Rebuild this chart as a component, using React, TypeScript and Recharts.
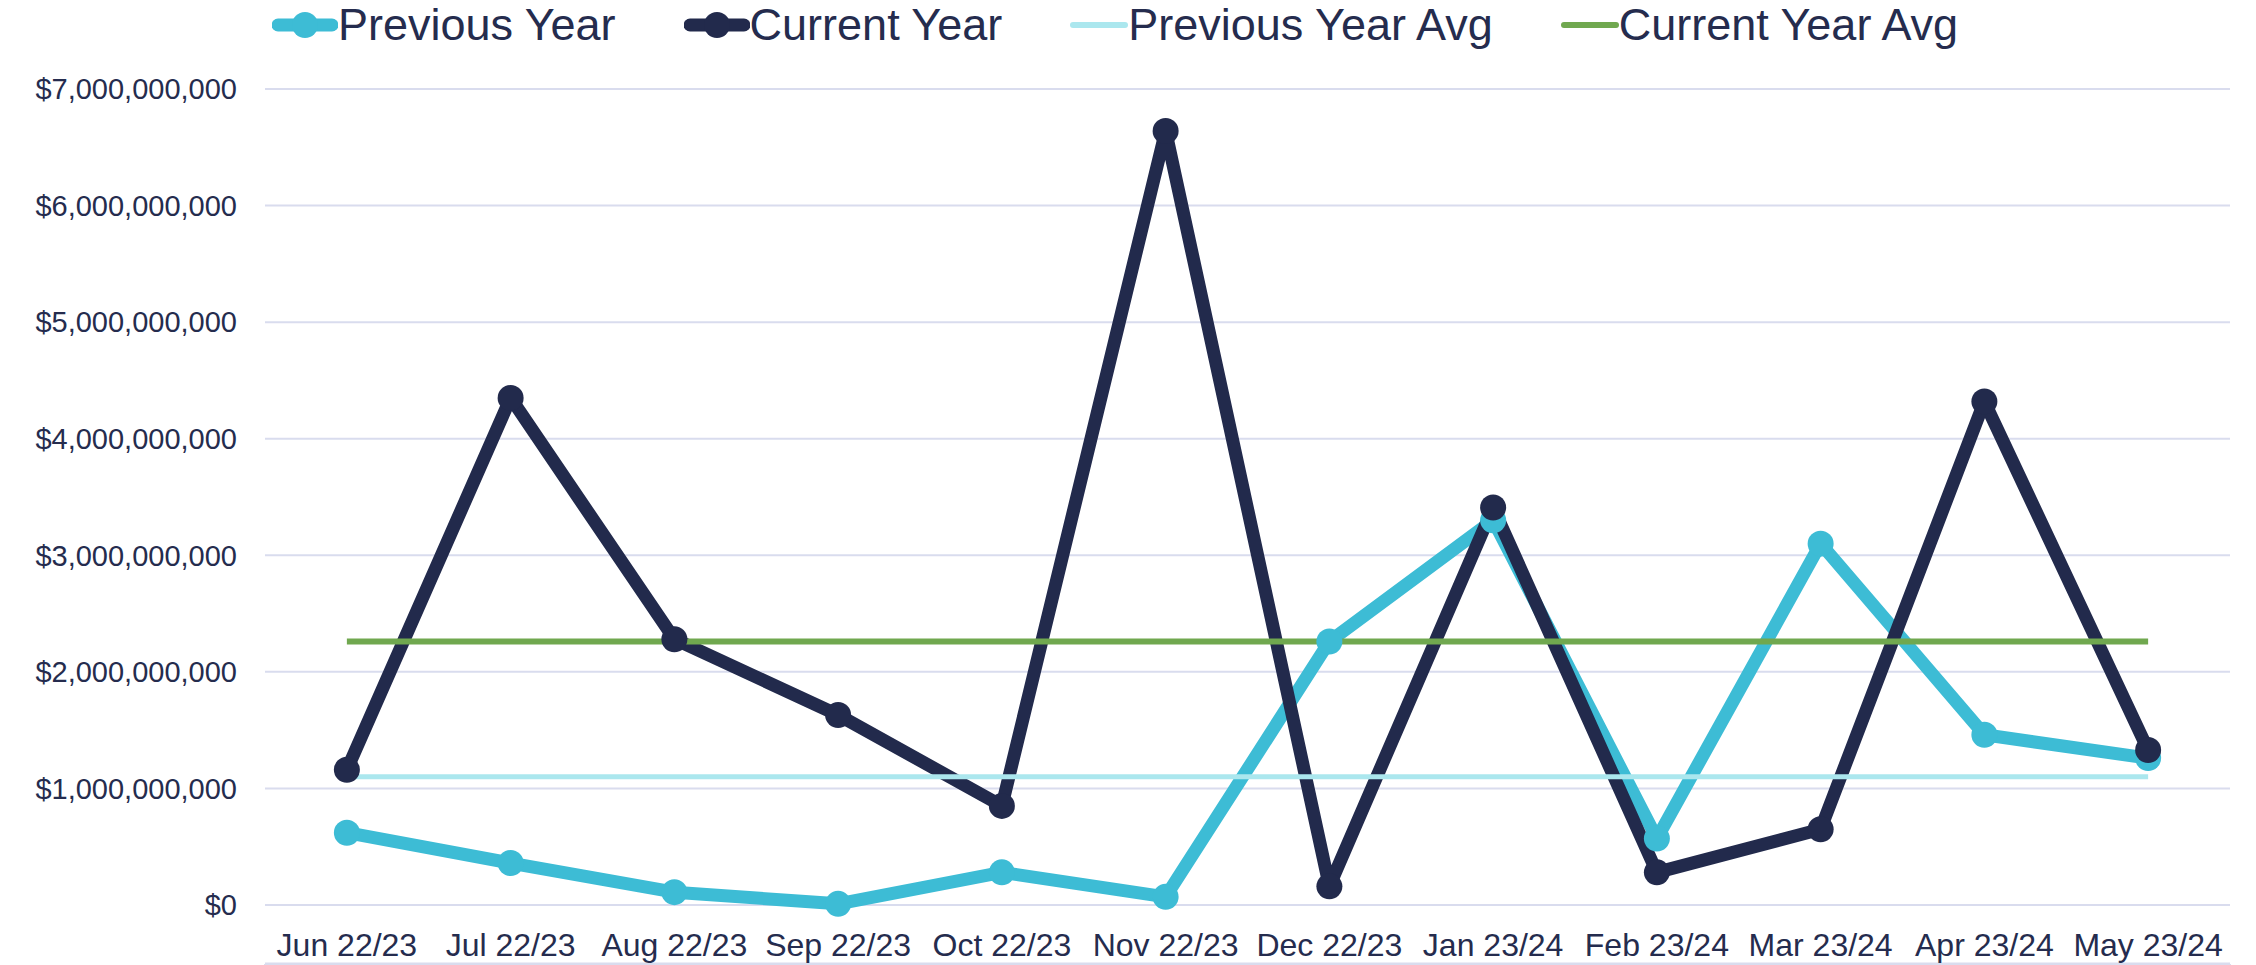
import React from "react";
import { LineChart, Line, XAxis, YAxis, CartesianGrid, Legend } from "recharts";

// month labels (fiscal year style)
const months = [
  "Jun 22/23",
  "Jul 22/23",
  "Aug 22/23",
  "Sep 22/23",
  "Oct 22/23",
  "Nov 22/23",
  "Dec 22/23",
  "Jan 23/24",
  "Feb 23/24",
  "Mar 23/24",
  "Apr 23/24",
  "May 23/24",
];

const previousYear = [
  0.62e9, 0.36e9, 0.11e9, 0.01e9, 0.28e9, 0.07e9, 2.26e9, 3.3e9, 0.57e9,
  3.1e9, 1.46e9, 1.26e9,
];
const currentYear = [
  1.16e9, 4.35e9, 2.28e9, 1.63e9, 0.85e9, 6.64e9, 0.16e9, 3.41e9, 0.28e9,
  0.65e9, 4.32e9, 1.33e9,
];
const previousYearAvg = [
  1.1e9, 1.1e9, 1.1e9, 1.1e9, 1.1e9, 1.1e9, 1.1e9, 1.1e9, 1.1e9, 1.1e9,
  1.1e9, 1.1e9,
];
const currentYearAvg = [
  2.26e9, 2.26e9, 2.26e9, 2.26e9, 2.26e9, 2.26e9, 2.26e9, 2.26e9, 2.26e9,
  2.26e9, 2.26e9, 2.26e9,
];

const yTicks = [0, 1e9, 2e9, 3e9, 4e9, 5e9, 6e9, 7e9];
// category boundaries for the x axis tick marks
const boundaryTicks = [0, 1, 2, 3, 4, 5, 6, 7, 8, 9, 10, 11, 12];

const data = months.map((month, i) => ({
  month,
  prev: previousYear[i],
  curr: currentYear[i],
  prevAvg: previousYearAvg[i],
  currAvg: currentYearAvg[i],
}));

const TEXT = "#252C4E";
const PREV = "#3DBCD5";
const CURR = "#222A4C";
const PREV_AVG = "#ABE7EE";
const CURR_AVG = "#70A84F";
const GRID = "#D9DCEE";
const FONT = "'Liberation Sans', Arial, sans-serif";

const legendItems = [
  { label: "Previous Year", color: PREV, marker: true },
  { label: "Current Year", color: CURR, marker: true },
  { label: "Previous Year Avg", color: PREV_AVG, marker: false },
  { label: "Current Year Avg", color: CURR_AVG, marker: false },
];

const renderLegend = () => (
  <div
    style={{
      display: "flex",
      justifyContent: "center",
      alignItems: "flex-start",
      gap: 68,
      height: 89,
      fontFamily: FONT,
    }}
  >
    {legendItems.map((item) => (
      <div key={item.label} style={{ display: "flex", alignItems: "center", height: 50 }}>
        {item.marker ? (
          <svg width={66} height={50}>
            <line x1={6} y1={25} x2={60} y2={25} stroke={item.color} strokeWidth={13} strokeLinecap="round" />
            <circle cx={33} cy={25} r={13} fill={item.color} />
          </svg>
        ) : (
          <svg width={58} height={50}>
            <line x1={3} y1={25} x2={55} y2={25} stroke={item.color} strokeWidth={6} strokeLinecap="round" />
          </svg>
        )}
        <span style={{ fontSize: 45, color: TEXT, lineHeight: "50px", whiteSpace: "nowrap" }}>
          {item.label}
        </span>
      </div>
    ))}
  </div>
);

const formatDollar = (v: number) => "$" + v.toLocaleString("en-US");

export default function App() {
  return (
    <div style={{ width: 2256, height: 965, background: "#ffffff" }}>
      <style>{"body{margin:0;}"}</style>
      <LineChart
        width={2256}
        height={965}
        data={data}
        margin={{ top: 0, right: 26, bottom: 0, left: 0 }}
      >
        <CartesianGrid
          xAxisId="cat"
          vertical={false}
          stroke={GRID}
          strokeWidth={2}
        />
        <XAxis
          xAxisId="grid"
          type="number"
          domain={[0, 12]}
          ticks={boundaryTicks}
          tickFormatter={() => ""}
          tickSize={11}
          tickMargin={0}
          tickLine={{ stroke: GRID, strokeWidth: 2 }}
          axisLine={{ stroke: GRID, strokeWidth: 3 }}
          height={1}
        />
        <XAxis
          xAxisId="cat"
          dataKey="month"
          scale="band"
          axisLine={false}
          tickLine={false}
          tickSize={0}
          tickMargin={28}
          interval={0}
          height={59}
          tick={{ fill: TEXT, fontSize: 32, fontFamily: FONT }}
        />
        <YAxis
          domain={[0, 7e9]}
          ticks={yTicks}
          width={265}
          axisLine={false}
          tickLine={false}
          tickSize={0}
          tickMargin={28}
          tickFormatter={formatDollar}
          tick={{ fill: TEXT, fontSize: 29, fontFamily: FONT }}
        />
        <Legend verticalAlign="top" content={renderLegend} />
        <Line
          xAxisId="cat"
          dataKey="prev"
          name="Previous Year"
          stroke={PREV}
          strokeWidth={13}
          strokeLinejoin="round"
          dot={{ r: 13, fill: PREV, stroke: "none" }}
          activeDot={false}
          isAnimationActive={false}
        />
        <Line
          xAxisId="cat"
          dataKey="curr"
          name="Current Year"
          stroke={CURR}
          strokeWidth={13}
          strokeLinejoin="round"
          dot={{ r: 13, fill: CURR, stroke: "none" }}
          activeDot={false}
          isAnimationActive={false}
        />
        <Line
          xAxisId="cat"
          dataKey="prevAvg"
          name="Previous Year Avg"
          stroke={PREV_AVG}
          strokeWidth={5}
          dot={false}
          activeDot={false}
          isAnimationActive={false}
        />
        <Line
          xAxisId="cat"
          dataKey="currAvg"
          name="Current Year Avg"
          stroke={CURR_AVG}
          strokeWidth={6}
          dot={false}
          activeDot={false}
          isAnimationActive={false}
        />
      </LineChart>
    </div>
  );
}
